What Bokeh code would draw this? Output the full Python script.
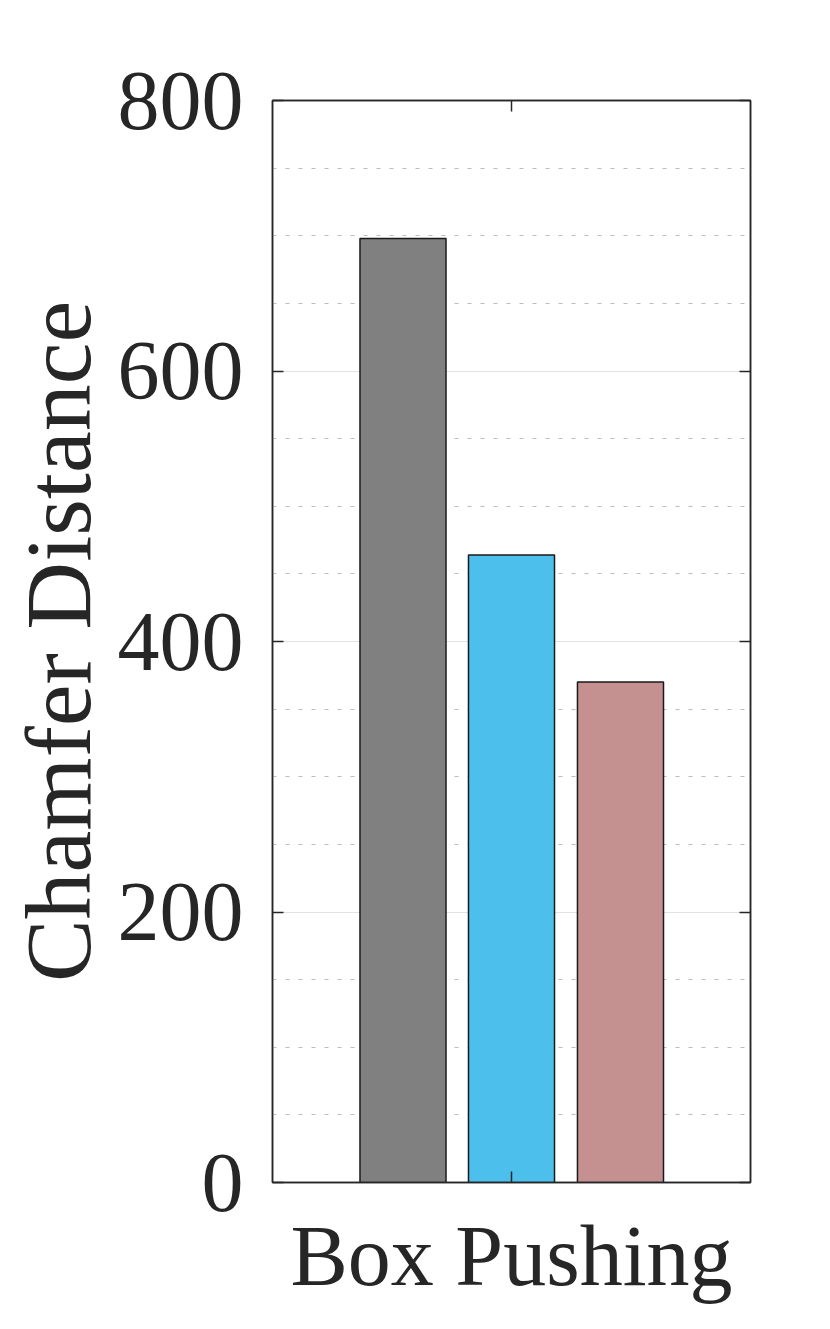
from bokeh.plotting import figure
from bokeh.models import (ColumnDataSource, FactorRange, Range1d, LinearAxis,
                          CategoricalAxis, SingleIntervalTicker)
from bokeh.transform import dodge
from bokeh.embed import file_html
from bokeh.resources import INLINE

# ---- data ----
categories = ["Box Pushing"]
methods = ["Method A", "Method B", "Method C"]
values = [698, 464, 370]
colors = ["#808080", "#4DBFEC", "#C49190"]
y_ticks = [0, 200, 400, 600, 800]

offsets = [-0.227, 0.0, 0.228]
bar_width = 0.18

FONT = "Liberation Serif"
TXT = "#262626"

p = figure(width=814, height=1313, output_backend="svg", toolbar_location=None,
           x_range=FactorRange(factors=categories, range_padding=0),
           y_range=Range1d(0, 800),
           min_border_left=272, min_border_right=64,
           min_border_top=100, min_border_bottom=131,
           background_fill_color="white", border_fill_color="white")

for m, v, c, off in zip(methods, values, colors, offsets):
    src = ColumnDataSource(data=dict(cat=categories, val=[v]))
    p.vbar(x=dodge("cat", off, range=p.x_range), top="val", width=bar_width,
           source=src, fill_color=c, line_color="#1a1a1a", line_width=1.5,
           legend_label=m)

p.legend.visible = False

ticker = SingleIntervalTicker(interval=200, num_minor_ticks=4)
p.yaxis.ticker = ticker
p.ygrid.ticker = ticker
p.xgrid.visible = False
p.ygrid.grid_line_color = "#e2e2e2"
p.ygrid.grid_line_width = 1
p.ygrid.minor_grid_line_color = "#bdbdbd"
p.ygrid.minor_grid_line_dash = "4 9"
p.ygrid.minor_grid_line_width = 1

p.outline_line_color = TXT
p.outline_line_width = 1.5

def style_axis(ax):
    ax.axis_line_color = TXT
    ax.axis_line_width = 1.5
    ax.major_tick_line_color = TXT
    ax.major_tick_line_width = 1.5
    ax.major_tick_in = 11
    ax.major_tick_out = 0
    ax.minor_tick_line_color = None
    ax.major_label_text_font = FONT
    ax.major_label_text_color = TXT
    ax.major_label_text_font_size = "84px"

yax = p.yaxis[0]
style_axis(yax)
yax.major_label_standoff = 25
yax.axis_label = "Chamfer Distance"
yax.axis_label_text_font = FONT
yax.axis_label_text_font_size = "94px"
yax.axis_label_text_font_style = "normal"
yax.axis_label_text_color = TXT
yax.axis_label_standoff = 5

xax = p.xaxis[0]
style_axis(xax)
xax.major_label_text_font_size = "86px"
xax.major_label_standoff = 25

rax = LinearAxis(ticker=ticker)
style_axis(rax)
rax.major_label_standoff = 0
rax.major_label_overrides = {t: "" for t in y_ticks}
p.add_layout(rax, "right")

tax = CategoricalAxis()
style_axis(tax)
tax.major_label_standoff = 0
tax.major_label_text_color = None
tax.major_label_text_font_size = "10px"
p.add_layout(tax, "above")

open("out.html", "w").write(file_html(p, INLINE))
